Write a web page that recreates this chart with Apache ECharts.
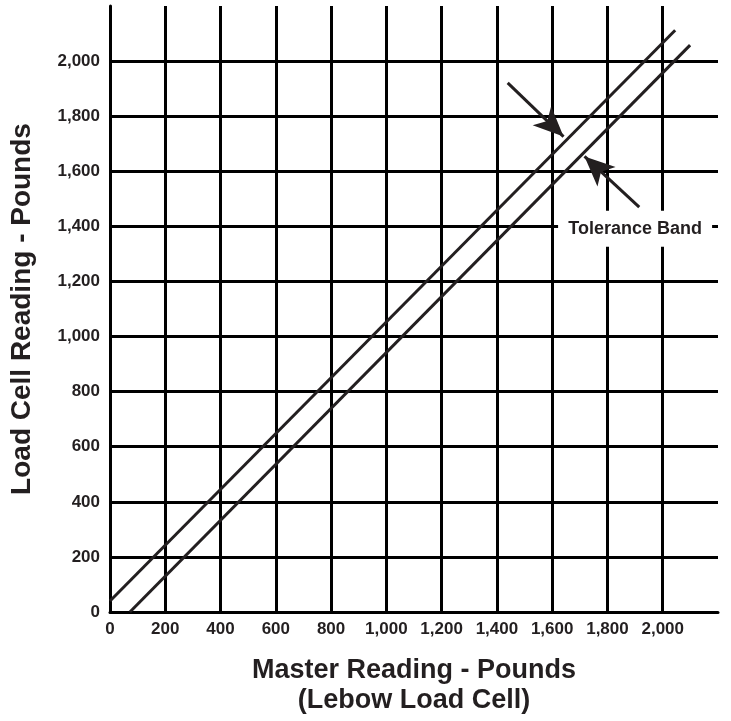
<!DOCTYPE html>
<html><head><meta charset="utf-8">
<script src="https://cdn.jsdelivr.net/npm/echarts@6/dist/echarts.min.js"></script>
<style>html,body{margin:0;padding:0;background:#fff}#c{width:731px;height:721px}</style>
</head><body><div id="c"></div>
<script>
// Data
const xTicks = [0, 200, 400, 600, 800, 1000, 1200, 1400, 1600, 1800, 2000];
const yTicks = [0, 200, 400, 600, 800, 1000, 1200, 1400, 1600, 1800, 2000];
const upperBand = [[0, 40], [2045, 2112]];
const lowerBand = [[72, 0], [2099, 2058]];
const arrowUpper = [[1439, 1921], [1641, 1726]];
const arrowLower = [[1915, 1470], [1717, 1654]];
const bandLabel = 'Tolerance Band';
const bandLabelAt = [1900, 1391];
const xTitle = 'Master Reading - Pounds\n(Lebow Load Cell)';
const yTitle = 'Load Cell Reading - Pounds';

const INK = '#231f20';
const FONT = '"Liberation Sans", Arial, Helvetica, sans-serif';
const fmt = v => (xTicks.indexOf(v) >= 0 || yTicks.indexOf(v) >= 0) ? v.toLocaleString('en-US') : '';

const chart = echarts.init(document.getElementById('c'), null, {renderer: 'canvas'});
chart.setOption({
  animation: false,
  backgroundColor: '#fff',
  grid: {left: 108, right: 13, top: 6, bottom: 105, containLabel: false},
  xAxis: {
    type: 'value', min: 0, max: 2200, interval: 200,
    axisLine: {show: true, lineStyle: {color: '#000', width: 3}},
    axisTick: {show: false},
    splitLine: {show: true, showMaxLine: false, lineStyle: {color: '#000', width: 3}},
    axisLabel: {formatter: fmt, color: INK, fontFamily: FONT, fontWeight: 'bold', fontSize: 17, margin: 9},
    name: xTitle, nameLocation: 'middle', nameGap: 44,
    nameTextStyle: {color: INK, fontFamily: FONT, fontWeight: 'bold', fontSize: 27, lineHeight: 30, verticalAlign: 'top'}
  },
  yAxis: {
    type: 'value', min: 0, max: 2200, interval: 200,
    axisLine: {show: true, lineStyle: {color: '#000', width: 3}},
    axisTick: {show: false},
    splitLine: {show: true, showMaxLine: false, lineStyle: {color: '#000', width: 3}},
    axisLabel: {formatter: fmt, color: INK, fontFamily: FONT, fontWeight: 'bold', fontSize: 17, margin: 10},
    name: yTitle, nameLocation: 'middle', nameGap: 74,
    nameTextStyle: {color: INK, fontFamily: FONT, fontWeight: 'bold', fontSize: 28}
  },
  series: [
    {type: 'line', data: upperBand, symbol: 'none', lineStyle: {color: INK, width: 3}, z: 3},
    {type: 'line', data: lowerBand, symbol: 'none', lineStyle: {color: INK, width: 3}, z: 3,
      markLine: {
        silent: true, symbol: ['none', 'arrow'], symbolSize: [20, 30],
        lineStyle: {color: INK, width: 3, type: 'solid'}, label: {show: false},
        data: [
          [{coord: arrowUpper[0]}, {coord: arrowUpper[1]}],
          [{coord: arrowLower[0]}, {coord: arrowLower[1]}]
        ]
      },
      markPoint: {
        silent: true, symbol: 'rect', symbolSize: [154, 36],
        itemStyle: {color: '#fff'},
        label: {show: true, position: 'inside', formatter: bandLabel, color: INK, fontFamily: FONT, fontWeight: 'bold', fontSize: 18},
        data: [{coord: bandLabelAt}]
      }
    }
  ]
});
</script></body></html>
